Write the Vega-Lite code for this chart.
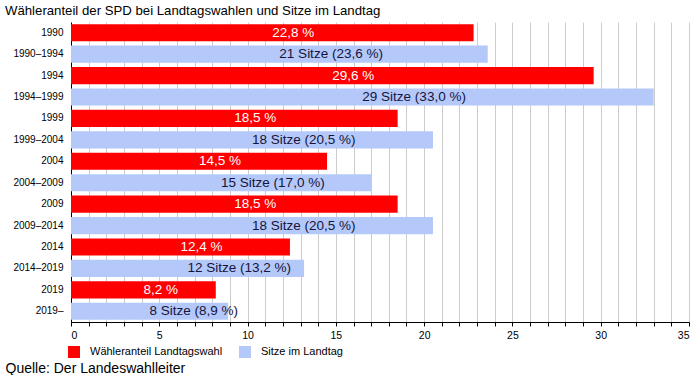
{
  "$schema": "https://vega.github.io/schema/vega-lite/v6.json",
  "autosize": "none",
  "width": 618,
  "height": 300,
  "padding": {"left": 71, "top": 22, "right": 11, "bottom": 53},
  "background": "white",
  "title": {
    "text": "Wähleranteil der SPD bei Landtagswahlen und Sitze im Landtag",
    "anchor": "start",
    "frame": "group",
    "dx": -66,
    "offset": 4,
    "font": "Liberation Sans",
    "fontSize": 13.2,
    "fontWeight": "normal",
    "color": "#000000"
  },
  "config": {
    "view": {"stroke": null},
    "font": "Liberation Sans"
  },
  "data": {
    "values": [
      {"label": "1990", "kind": "Wähleranteil Landtagswahl", "value": 22.8, "text": "22,8 %"},
      {"label": "1990–1994", "kind": "Sitze im Landtag", "value": 23.6, "text": "21 Sitze (23,6 %)"},
      {"label": "1994", "kind": "Wähleranteil Landtagswahl", "value": 29.6, "text": "29,6 %"},
      {"label": "1994–1999", "kind": "Sitze im Landtag", "value": 33.0, "text": "29 Sitze (33,0 %)"},
      {"label": "1999", "kind": "Wähleranteil Landtagswahl", "value": 18.5, "text": "18,5 %"},
      {"label": "1999–2004", "kind": "Sitze im Landtag", "value": 20.5, "text": "18 Sitze (20,5 %)"},
      {"label": "2004", "kind": "Wähleranteil Landtagswahl", "value": 14.5, "text": "14,5 %"},
      {"label": "2004–2009", "kind": "Sitze im Landtag", "value": 17.0, "text": "15 Sitze (17,0 %)"},
      {"label": "2009", "kind": "Wähleranteil Landtagswahl", "value": 18.5, "text": "18,5 %"},
      {"label": "2009–2014", "kind": "Sitze im Landtag", "value": 20.5, "text": "18 Sitze (20,5 %)"},
      {"label": "2014", "kind": "Wähleranteil Landtagswahl", "value": 12.4, "text": "12,4 %"},
      {"label": "2014–2019", "kind": "Sitze im Landtag", "value": 13.2, "text": "12 Sitze (13,2 %)"},
      {"label": "2019", "kind": "Wähleranteil Landtagswahl", "value": 8.2, "text": "8,2 %"},
      {"label": "2019–", "kind": "Sitze im Landtag", "value": 8.9, "text": "8 Sitze (8,9 %)"}
    ]
  },
  "encoding": {
    "y": {
      "field": "label",
      "type": "nominal",
      "sort": null,
      "scale": {"paddingInner": 0.2, "paddingOuter": 0.1},
      "axis": {
        "title": null,
        "ticks": false,
        "domainColor": "#000000",
        "labelPadding": 8,
        "labelFontSize": 10,
        "labelColor": "#000000",
        "labelFont": "Liberation Sans"
      }
    }
  },
  "layer": [
    {
      "mark": {"type": "bar"},
      "encoding": {
        "x": {
          "field": "value",
          "type": "quantitative",
          "scale": {"domain": [0, 35], "nice": false},
          "axis": {
            "values": [0,1,2,3,4,5,6,7,8,9,10,11,12,13,14,15,16,17,18,19,20,21,22,23,24,25,26,27,28,29,30,31,32,33,34,35],
            "labelExpr": "datum.value % 5 == 0 ? datum.label : ''",
            "grid": true,
            "gridColor": "#cccccc",
            "tickColor": "#000000",
            "tickSize": 4,
            "domainColor": "#000000",
            "labelFontSize": 10.5,
            "labelColor": "#000000",
            "labelPadding": 4,
            "title": "Quelle: Der Landeswahlleiter",
            "titleX": -66,
            "titleY": 50,
            "titleAlign": "left",
            "titleAnchor": "start",
            "titleBaseline": "alphabetic",
            "titleFontSize": 14,
            "titleFontWeight": "normal",
            "titleColor": "#000000"
          }
        },
        "color": {
          "field": "kind",
          "type": "nominal",
          "scale": {
            "domain": ["Wähleranteil Landtagswahl", "Sitze im Landtag"],
            "range": ["#ff0000", "#b4c8fa"]
          },
          "legend": {
            "orient": "none",
            "direction": "horizontal",
            "legendX": -3,
            "legendY": 324,
            "title": null,
            "padding": 0,
            "symbolType": "square",
            "symbolSize": 144,
            "symbolStrokeWidth": 0,
            "symbolOpacity": 1,
            "labelOffset": 10,
            "columnPadding": 16,
            "labelFontSize": 11,
            "labelColor": "#000000",
            "labelLimit": 300
          }
        }
      }
    },
    {
      "mark": {"type": "text", "align": "left", "baseline": "middle", "fontSize": 13.5, "font": "Liberation Sans"},
      "encoding": {
        "x": {
          "field": "value",
          "type": "quantitative",
          "scale": {"domain": [0, 70], "nice": false},
          "axis": null
        },
        "text": {"field": "text"},
        "color": {
          "field": "kind",
          "type": "nominal",
          "scale": {
            "domain": ["Wähleranteil Landtagswahl", "Sitze im Landtag"],
            "range": ["#ffffff", "#14143c"]
          },
          "legend": null
        }
      }
    }
  ],
  "resolve": {"scale": {"x": "independent", "color": "independent"}}
}
